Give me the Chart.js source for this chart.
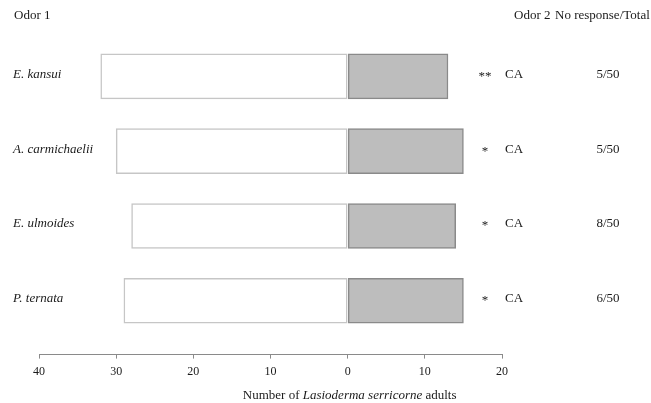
<!DOCTYPE html>
<html>
<head>
<meta charset="utf-8">
<script src="https://cdn.jsdelivr.net/npm/chart.js@4/dist/chart.umd.min.js"></script>
<style>
  html, body { margin: 0; padding: 0; background: #fff; }
  #wrap { width: 651px; height: 403px; }
</style>
</head>
<body>
<div id="wrap"><canvas id="c" width="651" height="403"></canvas></div>
<script>
// Two-choice olfactometer results: odor 1 (left) vs odor 2 (right)
const odors = ['E. kansui', 'A. carmichaelii', 'E. ulmoides', 'P. ternata'];
const odor1Counts = [32, 30, 28, 29];
const odor2Counts = [13, 15, 14, 15];
const noResponse = [5, 5, 8, 6];
const totalInsects = 50;
const significance = ['**', '*', '*', '*'];
const odor2Name = 'CA';
const xTickValues = [-40, -30, -20, -10, 0, 10, 20];

const SERIF = '"Liberation Serif", "DejaVu Serif", serif';
const INK = '#1a1a1a';

// Text around the plot: headers, odor names, significance marks, counts, axis title
const sideText = {
  id: 'sideText',
  afterDraw(chart) {
    const ctx = chart.ctx;
    const y = chart.scales.y;
    const x = chart.scales.x;
    ctx.save();
    ctx.fillStyle = INK;
    ctx.textBaseline = 'middle';

    ctx.font = '13px ' + SERIF;
    ctx.textAlign = 'left';
    ctx.fillText('Odor 1', 14, 16);
    ctx.fillText('Odor 2', 514, 16);
    ctx.fillText('No response/Total', 555, 16);

    odors.forEach((name, i) => {
      const py = y.getPixelForValue(i) - 2;
      ctx.font = 'italic 13px ' + SERIF;
      ctx.textAlign = 'left';
      ctx.fillText(name, 13, py);

      ctx.font = '13px ' + SERIF;
      ctx.textAlign = 'center';
      ctx.fillText(significance[i], 485, py + 2);

      ctx.textAlign = 'left';
      ctx.fillText(odor2Name, 505, py);
      ctx.textAlign = 'center';
      ctx.fillText(noResponse[i] + '/' + totalInsects, 608, py);
    });

    // axis title with the species name in italics
    const parts = [
      ['13px ' + SERIF, 'Number of '],
      ['italic 13px ' + SERIF, 'Lasioderma serricorne'],
      ['13px ' + SERIF, ' adults']
    ];
    let width = 0;
    parts.forEach(p => { ctx.font = p[0]; width += ctx.measureText(p[1]).width; });
    let tx = x.getPixelForValue(0) + 2 - width / 2;
    ctx.textAlign = 'left';
    parts.forEach(p => {
      ctx.font = p[0];
      ctx.fillText(p[1], tx, 396);
      tx += ctx.measureText(p[1]).width;
    });
    ctx.restore();
  }
};

new Chart(document.getElementById('c'), {
  type: 'bar',
  data: {
    datasets: [
      {
        label: 'Odor 1',
        data: odor1Counts.map((v, i) => ({ x: -v, y: i })),
        backgroundColor: '#ffffff',
        borderColor: '#c6c6c6',
        borderWidth: 1.5,
        borderSkipped: false,
        barThickness: 45
      },
      {
        label: odor2Name,
        data: odor2Counts.map((v, i) => ({ x: v, y: i })),
        backgroundColor: '#bdbdbd',
        borderColor: '#8a8a8a',
        borderWidth: 1.5,
        borderSkipped: false,
        barThickness: 45
      }
    ]
  },
  options: {
    indexAxis: 'y',
    responsive: false,
    animation: false,
    layout: { padding: { top: 39, left: 39, right: 149, bottom: 18 } },
    plugins: { legend: { display: false }, tooltip: { enabled: false } },
    scales: {
      y: {
        type: 'linear',
        reverse: true,
        offset: false,
        min: -0.5,
        max: 3.72,
        stacked: true,
        display: false
      },
      x: {
        type: 'linear',
        min: -40,
        max: 20,
        stacked: true,
        afterBuildTicks(scale) { scale.ticks = xTickValues.map(v => ({ value: v })); },
        grid: {
          drawOnChartArea: false,
          drawTicks: true,
          tickLength: 4,
          color: '#8a8a8a'
        },
        border: { display: true, color: '#8a8a8a', width: 1 },
        ticks: {
          padding: 6,
          color: INK,
          font: { family: SERIF, size: 12 },
          maxRotation: 0,
          callback: v => String(Math.abs(v))
        }
      }
    }
  },
  plugins: [sideText]
});
</script>
</body>
</html>
